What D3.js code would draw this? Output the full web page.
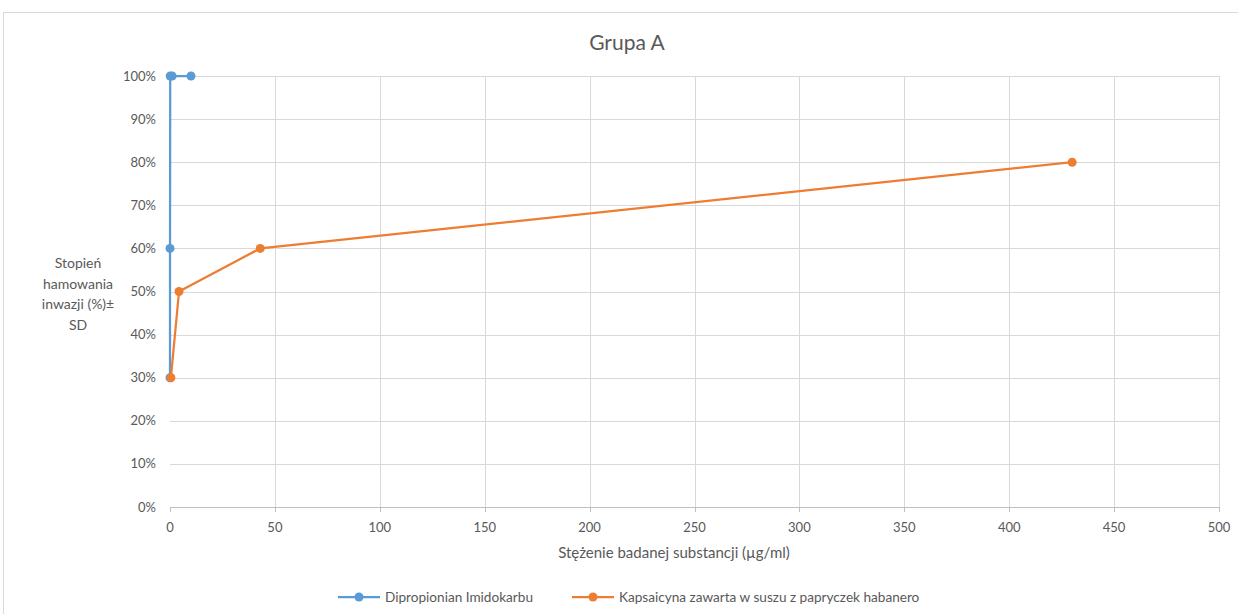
<!DOCTYPE html>
<html><head><meta charset="utf-8">
<script src="https://cdn.jsdelivr.net/npm/d3@7"></script>
<style>
body{margin:0;background:#fff;}
svg{display:block;font-family:Lato,"Open Sans",sans-serif;}
</style></head>
<body><svg id="c" width="1238" height="614"></svg>
<script>
const title = "Grupa A";
const xTitle = "Stężenie badanej substancji (µg/ml)";
const yTitleLines = ["Stopień","hamowania","inwazji (%)±","SD"];
const seriesNames = ["Dipropionian Imidokarbu","Kapsaicyna zawarta w suszu z papryczek habanero"];
const seriesColors = ["#5b9bd5","#ed7d31"];
const xTicks = [0,50,100,150,200,250,300,350,400,450,500];
const yTicks = [0,10,20,30,40,50,60,70,80,90,100];
const blueX = [10,1,0.1,0.01,0.001];
const blueY = [100,100,100,60,30];
const orangeX = [0.43,4.3,43,430];
const orangeY = [30,50,60,80];

const svg = d3.select("#c");
svg.append("rect").attr("x",3.5).attr("y",12.5).attr("width",1240).attr("height",610)
  .attr("fill","none").attr("stroke","#d9d9d9");

const x = d3.scaleLinear().domain([0,500]).range([170,1219]);
const y = d3.scaleLinear().domain([0,100]).range([507,76]);

svg.append("g").selectAll("line").data(yTicks).join("line")
  .attr("x1",x(0)).attr("x2",x(500)).attr("y1",d=>Math.round(y(d))+0.5).attr("y2",d=>Math.round(y(d))+0.5)
  .attr("stroke","#d9d9d9");
svg.append("g").selectAll("line").data(xTicks.filter(d=>d>0)).join("line")
  .attr("y1",y(0)).attr("y2",y(100)).attr("x1",d=>Math.round(x(d))+0.5).attr("x2",d=>Math.round(x(d))+0.5)
  .attr("stroke","#d9d9d9");
svg.append("line").attr("x1",x(0)).attr("x2",x(500)).attr("y1",y(0)+0.5).attr("y2",y(0)+0.5).attr("stroke","#bfbfbf");
svg.append("g").selectAll("line").data(xTicks).join("line")
  .attr("x1",d=>Math.round(x(d))+0.5).attr("x2",d=>Math.round(x(d))+0.5).attr("y1",y(0)).attr("y2",y(0)+5)
  .attr("stroke","#bfbfbf");

svg.append("g").selectAll("text").data(yTicks).join("text")
  .attr("x",156).attr("y",d=>y(d)).attr("dy","0.35em").attr("text-anchor","end")
  .attr("font-size",13).attr("fill","#595959").text(d=>d+"%");
svg.append("g").selectAll("text").data(xTicks).join("text")
  .attr("x",d=>x(d)).attr("y",527).attr("dy","0.35em").attr("text-anchor","middle")
  .attr("font-size",13).attr("fill","#595959").text(d=>d);

svg.append("text").attr("x",627).attr("y",43).attr("dy","0.35em").attr("text-anchor","middle")
  .attr("font-size",21).attr("fill","#595959").text(title);
svg.append("text").attr("x",674).attr("y",553).attr("dy","0.35em").attr("text-anchor","middle")
  .attr("font-size",15).attr("fill","#595959").text(xTitle);
svg.append("g").selectAll("text").data(yTitleLines).join("text")
  .attr("x",78).attr("y",(d,i)=>263+i*20.7).attr("dy","0.35em").attr("text-anchor","middle")
  .attr("font-size",14).attr("fill","#595959").text(d=>d);

const series = [
  {xs:blueX, ys:blueY, color:seriesColors[0]},
  {xs:orangeX, ys:orangeY, color:seriesColors[1]}
];
const line = d3.line().x(d=>x(d[0])).y(d=>y(d[1]));
series.forEach(s=>{
  const pts = s.xs.map((v,i)=>[v,s.ys[i]]);
  svg.append("path").datum(pts).attr("d",line).attr("fill","none")
    .attr("stroke",s.color).attr("stroke-width",2.25).attr("stroke-linejoin","round");
  svg.append("g").selectAll("circle").data(pts).join("circle")
    .attr("cx",d=>x(d[0])).attr("cy",d=>y(d[1])).attr("r",4.5).attr("fill",s.color);
});

const legX = [338,572];
const legY = 597;
seriesNames.forEach((n,i)=>{
  const g = svg.append("g");
  g.append("line").attr("x1",legX[i]).attr("x2",legX[i]+42).attr("y1",legY).attr("y2",legY)
    .attr("stroke",seriesColors[i]).attr("stroke-width",2.25);
  g.append("circle").attr("cx",legX[i]+21).attr("cy",legY).attr("r",4.5).attr("fill",seriesColors[i]);
  g.append("text").attr("x",legX[i]+47).attr("y",legY).attr("dy","0.35em")
    .attr("font-size",13.6).attr("fill","#595959").text(n);
});
</script></body></html>
